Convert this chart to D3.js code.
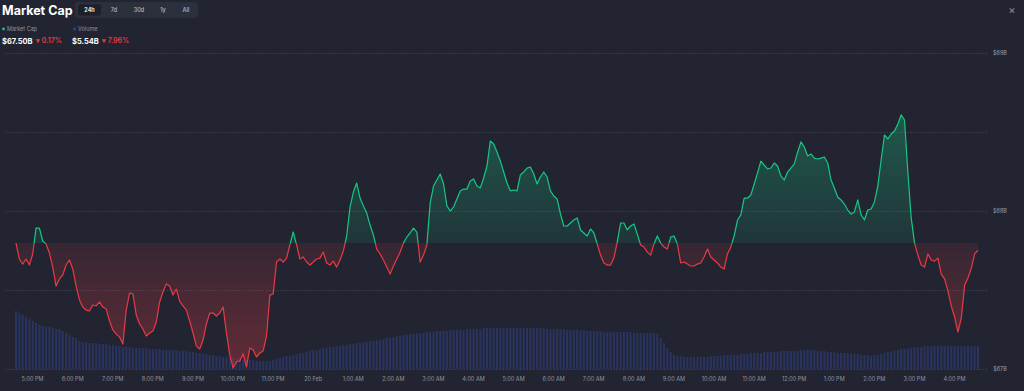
<!DOCTYPE html>
<html>
<head>
<meta charset="utf-8">
<script src="https://cdn.jsdelivr.net/npm/d3@7"></script>
<style>
  body { margin: 0; background: #222531; }
  svg { display: block; font-family: Inter, "Noto Sans", sans-serif; }
</style>
</head>
<body>
<svg id="chart" width="1024" height="391"></svg>
<script>
// market cap, $B, every 5 min from 19 Feb 4:36 PM
const price = [
  67.797, 67.696, 67.664, 67.696, 67.658, 67.728, 67.892, 67.892, 67.810, 67.791, 67.734, 67.645,
  67.525, 67.570, 67.595, 67.658, 67.690, 67.633, 67.525, 67.437, 67.392, 67.373, 67.367, 67.405,
  67.399, 67.424, 67.392, 67.380, 67.304, 67.247, 67.221, 67.202, 67.158, 67.373, 67.481, 67.475,
  67.342, 67.285, 67.253, 67.209, 67.228, 67.240, 67.297, 67.424, 67.487, 67.538, 67.525, 67.468,
  67.506, 67.430, 67.399, 67.373, 67.304, 67.228, 67.145, 67.127, 67.183, 67.285, 67.354, 67.354,
  67.335, 67.354, 67.392, 67.228, 67.089, 67.006, 67.044, 67.051, 67.095, 67.013, 67.133, 67.120,
  67.076, 67.101, 67.114, 67.209, 67.468, 67.475, 67.677, 67.696, 67.677, 67.702, 67.785, 67.867,
  67.785, 67.696, 67.709, 67.677, 67.658, 67.677, 67.696, 67.702, 67.740, 67.671, 67.658, 67.683,
  67.645, 67.690, 67.747, 67.842, 68.025, 68.120, 68.177, 68.082, 68.032, 67.987, 67.911, 67.848,
  67.759, 67.728, 67.690, 67.645, 67.601, 67.652, 67.696, 67.740, 67.797, 67.835, 67.861, 67.892,
  67.867, 67.677, 67.721, 67.785, 68.051, 68.158, 68.196, 68.234, 68.171, 68.032, 68.000, 68.025,
  68.076, 68.127, 68.139, 68.139, 68.190, 68.203, 68.158, 68.146, 68.209, 68.285, 68.443, 68.424,
  68.373, 68.316, 68.247, 68.177, 68.127, 68.133, 68.127, 68.228, 68.247, 68.272, 68.278, 68.234,
  68.171, 68.215, 68.247, 68.215, 68.127, 68.095, 68.076, 67.981, 67.905, 67.905, 67.924, 67.943,
  67.956, 67.880, 67.861, 67.842, 67.886, 67.861, 67.791, 67.721, 67.671, 67.658, 67.658, 67.702,
  67.804, 67.924, 67.924, 67.880, 67.905, 67.918, 67.854, 67.785, 67.772, 67.740, 67.721, 67.791,
  67.842, 67.797, 67.772, 67.759, 67.835, 67.842, 67.791, 67.671, 67.677, 67.664, 67.652, 67.652,
  67.664, 67.671, 67.709, 67.759, 67.709, 67.690, 67.671, 67.645, 67.633, 67.728, 67.772, 67.842,
  67.943, 67.975, 68.082, 68.082, 68.101, 68.171, 68.241, 68.316, 68.291, 68.266, 68.272, 68.304,
  68.285, 68.222, 68.196, 68.247, 68.272, 68.298, 68.373, 68.437, 68.405, 68.348, 68.361, 68.335,
  68.329, 68.335, 68.342, 68.304, 68.196, 68.146, 68.089, 68.070, 68.044, 68.006, 67.981, 67.994,
  68.070, 67.975, 67.943, 68.006, 68.013, 68.057, 68.158, 68.323, 68.481, 68.456, 68.487, 68.506,
  68.551, 68.608, 68.576, 68.247, 67.956, 67.797, 67.721, 67.658, 67.645, 67.728, 67.690, 67.683,
  67.702, 67.601, 67.570, 67.494, 67.399, 67.329, 67.234, 67.323, 67.532, 67.576, 67.639, 67.728,
  67.753
];

// volume, $B, same 5 min steps
const volume = [
  8.61, 8.42, 8.23, 8.03, 7.84, 7.65, 7.45, 7.26, 7.16, 7.07, 7.07, 6.97,
  6.87, 6.87, 6.68, 6.48, 6.29, 6.10, 6.00, 5.71, 5.61, 5.61, 5.52, 5.52,
  5.52, 5.42, 5.42, 5.42, 5.32, 5.32, 5.23, 5.23, 5.13, 5.13, 5.13, 5.03,
  5.03, 5.03, 5.03, 5.03, 4.94, 4.94, 4.94, 4.94, 4.84, 4.84, 4.84, 4.84,
  4.84, 4.74, 4.74, 4.74, 4.65, 4.65, 4.55, 4.55, 4.45, 4.45, 4.36, 4.36,
  4.26, 4.26, 4.16, 4.16, 4.06, 4.06, 3.97, 3.97, 3.87, 3.87, 3.87, 3.87,
  3.77, 3.77, 3.77, 3.77, 3.77, 3.87, 3.97, 4.06, 4.16, 4.26, 4.26, 4.36,
  4.45, 4.55, 4.55, 4.65, 4.74, 4.84, 4.84, 4.94, 5.03, 5.03, 5.13, 5.13,
  5.23, 5.23, 5.32, 5.32, 5.42, 5.42, 5.52, 5.52, 5.61, 5.61, 5.71, 5.71,
  5.81, 5.81, 5.90, 6.00, 6.00, 6.10, 6.19, 6.19, 6.29, 6.29, 6.39, 6.39,
  6.48, 6.48, 6.48, 6.58, 6.58, 6.58, 6.68, 6.68, 6.68, 6.68, 6.78, 6.78,
  6.78, 6.78, 6.78, 6.87, 6.87, 6.87, 6.87, 6.87, 6.97, 6.97, 6.97, 6.97,
  6.97, 6.97, 6.97, 6.97, 6.97, 6.97, 6.97, 6.97, 6.97, 6.97, 6.97, 6.97,
  6.97, 6.97, 6.97, 6.87, 6.87, 6.87, 6.87, 6.87, 6.87, 6.78, 6.78, 6.78,
  6.78, 6.78, 6.78, 6.68, 6.68, 6.68, 6.68, 6.68, 6.58, 6.58, 6.58, 6.58,
  6.58, 6.58, 6.58, 6.58, 6.58, 6.48, 6.48, 6.48, 6.48, 6.48, 6.48, 6.48,
  6.39, 6.00, 5.52, 5.03, 4.65, 4.36, 4.26, 4.26, 4.16, 4.16, 4.16, 4.16,
  4.16, 4.16, 4.16, 4.16, 4.26, 4.26, 4.26, 4.26, 4.36, 4.36, 4.36, 4.36,
  4.36, 4.45, 4.45, 4.45, 4.55, 4.55, 4.55, 4.55, 4.65, 4.65, 4.65, 4.65,
  4.65, 4.74, 4.74, 4.74, 4.74, 4.74, 4.74, 4.84, 4.84, 4.84, 4.84, 4.84,
  4.74, 4.74, 4.74, 4.65, 4.65, 4.65, 4.55, 4.55, 4.55, 4.55, 4.45, 4.45,
  4.45, 4.36, 4.36, 4.36, 4.26, 4.36, 4.36, 4.45, 4.55, 4.65, 4.65, 4.74,
  4.84, 4.94, 4.94, 5.03, 5.03, 5.13, 5.13, 5.13, 5.23, 5.23, 5.23, 5.23,
  5.23, 5.23, 5.23, 5.23, 5.23, 5.23, 5.23, 5.23, 5.23, 5.23, 5.23, 5.23,
  5.23
];

const yGrid = [67, 67.5, 68, 68.5, 69];
const yLabels = [67, 68, 69];
const ranges = ["24h", "7d", "30d", "1y", "All"];

const start = new Date(2024, 1, 19, 16, 36);
const end = d3.timeMinute.offset(start, 5 * (price.length - 1));
const times = price.map((d, i) => d3.timeMinute.offset(start, 5 * i));
const base = price[0];

const green = "#16c784", red = "#ea3943";

const svg = d3.select("#chart");

const x = d3.scaleTime().domain([start, end]).range([16, 978]);
const y = d3.scaleLinear().domain([67, 69]).range([369, 53]);
const yVol = d3.scaleLinear().domain([3, 9]).range([369, 307]);

const defs = svg.append("defs");
const gUp = defs.append("linearGradient").attr("id", "gUp")
    .attr("gradientUnits", "userSpaceOnUse").attr("x1", 0).attr("x2", 0)
    .attr("y1", y(68.6)).attr("y2", y(base));
gUp.append("stop").attr("offset", 0).attr("stop-color", green).attr("stop-opacity", 0.32);
gUp.append("stop").attr("offset", 1).attr("stop-color", green).attr("stop-opacity", 0.1);
const gDown = defs.append("linearGradient").attr("id", "gDown")
    .attr("gradientUnits", "userSpaceOnUse").attr("x1", 0).attr("x2", 0)
    .attr("y1", y(base)).attr("y2", y(67));
gDown.append("stop").attr("offset", 0).attr("stop-color", red).attr("stop-opacity", 0.1);
gDown.append("stop").attr("offset", 1).attr("stop-color", red).attr("stop-opacity", 0.32);

defs.append("clipPath").attr("id", "clipUp").append("rect")
    .attr("x", 0).attr("y", 0).attr("width", 1024).attr("height", y(base));
defs.append("clipPath").attr("id", "clipDown").append("rect")
    .attr("x", 0).attr("y", y(base)).attr("width", 1024).attr("height", 391 - y(base));

// grid
const grid = svg.append("g").attr("transform", "translate(987,0)")
    .call(d3.axisLeft(y).tickValues(yGrid).tickSize(982).tickFormat(""));
grid.select(".domain").remove();
grid.selectAll("line").attr("stroke", "#3c3f4e").attr("stroke-dasharray", "1.5,1.5");

svg.append("g").selectAll("text").data(yLabels).join("text")
    .attr("x", 1000).attr("y", d => y(d)).attr("dy", "0.35em")
    .attr("text-anchor", "middle").attr("font-size", 5.5).attr("fill", "#9a9eae")
    .text(d => `$${d}B`);

// volume bars
svg.append("g").selectAll("rect").data(volume).join("rect")
    .attr("x", (d, i) => x(times[i]) - 1)
    .attr("width", 2)
    .attr("y", d => yVol(d))
    .attr("height", d => yVol(3) - yVol(d))
    .attr("fill", "#2a3460");

// areas + line, split at the opening value
const area = d3.area().x((d, i) => x(times[i])).y0(y(base)).y1(d => y(d));
const line = d3.line().x((d, i) => x(times[i])).y(d => y(d));

svg.append("path").datum(price).attr("d", area)
    .attr("fill", "url(#gUp)").attr("clip-path", "url(#clipUp)");
svg.append("path").datum(price).attr("d", area)
    .attr("fill", "url(#gDown)").attr("clip-path", "url(#clipDown)");
svg.append("path").datum(price).attr("d", line)
    .attr("fill", "none").attr("stroke", green).attr("stroke-width", 1.2)
    .attr("stroke-linejoin", "round").attr("clip-path", "url(#clipUp)");
svg.append("path").datum(price).attr("d", line)
    .attr("fill", "none").attr("stroke", red).attr("stroke-width", 1.2)
    .attr("stroke-linejoin", "round").attr("clip-path", "url(#clipDown)");

// x axis
const fmtHour = d3.timeFormat("%-I:%M %p"), fmtDay = d3.timeFormat("%-d %b");
const xAxis = svg.append("g").attr("transform", "translate(0,369)")
    .call(d3.axisBottom(x).ticks(d3.timeHour.every(1)).tickSize(0).tickPadding(8)
        .tickFormat(d => d.getHours() === 0 ? fmtDay(d) : fmtHour(d)));
xAxis.select(".domain").remove();
xAxis.selectAll("text").attr("font-size", 5.5).attr("fill", "#8e92a2").attr("font-family", "Inter, sans-serif");

// header
svg.append("text").attr("x", 2).attr("y", 14.5).attr("font-size", 12.5)
    .attr("font-weight", 700).attr("fill", "#ffffff").text("Market Cap");

svg.append("rect").attr("x", 75).attr("y", 2).attr("width", 123).attr("height", 16)
    .attr("rx", 3).attr("fill", "#2c2f3c");
svg.append("rect").attr("x", 78).attr("y", 4.5).attr("width", 23).attr("height", 11)
    .attr("rx", 2.5).attr("fill", "#1d2029");
const btnX = [89.5, 114, 139, 163, 186];
svg.append("g").selectAll("text").data(ranges).join("text")
    .attr("x", (d, i) => btnX[i]).attr("y", 10).attr("dy", "0.35em")
    .attr("text-anchor", "middle").attr("font-size", 5.5).attr("font-weight", 600)
    .attr("fill", (d, i) => i === 0 ? "#ffffff" : "#a6aab8")
    .text(d => d);

// legend
svg.append("circle").attr("cx", 3.5).attr("cy", 29).attr("r", 1.4).attr("fill", green);
svg.append("text").attr("x", 7).attr("y", 29).attr("dy", "0.35em").attr("font-size", 5.5)
    .attr("fill", "#8e92a2").text("Market Cap");
svg.append("circle").attr("cx", 74.5).attr("cy", 29).attr("r", 1.4).attr("fill", "#34448a");
svg.append("text").attr("x", 78).attr("y", 29).attr("dy", "0.35em").attr("font-size", 5.5)
    .attr("fill", "#8e92a2").text("Volume");

svg.append("text").attr("x", 2).attr("y", 41).attr("dy", "0.35em").attr("font-size", 7.5)
    .attr("font-weight", 700).attr("fill", "#ffffff").text("$67.50B");
svg.append("text").attr("x", 36).attr("y", 41).attr("dy", "0.35em").attr("font-size", 7)
    .attr("font-weight", 600).attr("fill", red).text("\u25BE 0.17%");
svg.append("text").attr("x", 72).attr("y", 41).attr("dy", "0.35em").attr("font-size", 7.5)
    .attr("font-weight", 700).attr("fill", "#ffffff").text("$5.54B");
svg.append("text").attr("x", 102).attr("y", 41).attr("dy", "0.35em").attr("font-size", 7)
    .attr("font-weight", 600).attr("fill", red).text("\u25BE 7.96%");

// close button
svg.append("text").attr("x", 1012).attr("y", 10).attr("dy", "0.35em").attr("text-anchor", "middle")
    .attr("font-size", 11).attr("fill", "#8e92a2").text("\u00D7");
</script>
</body>
</html>
